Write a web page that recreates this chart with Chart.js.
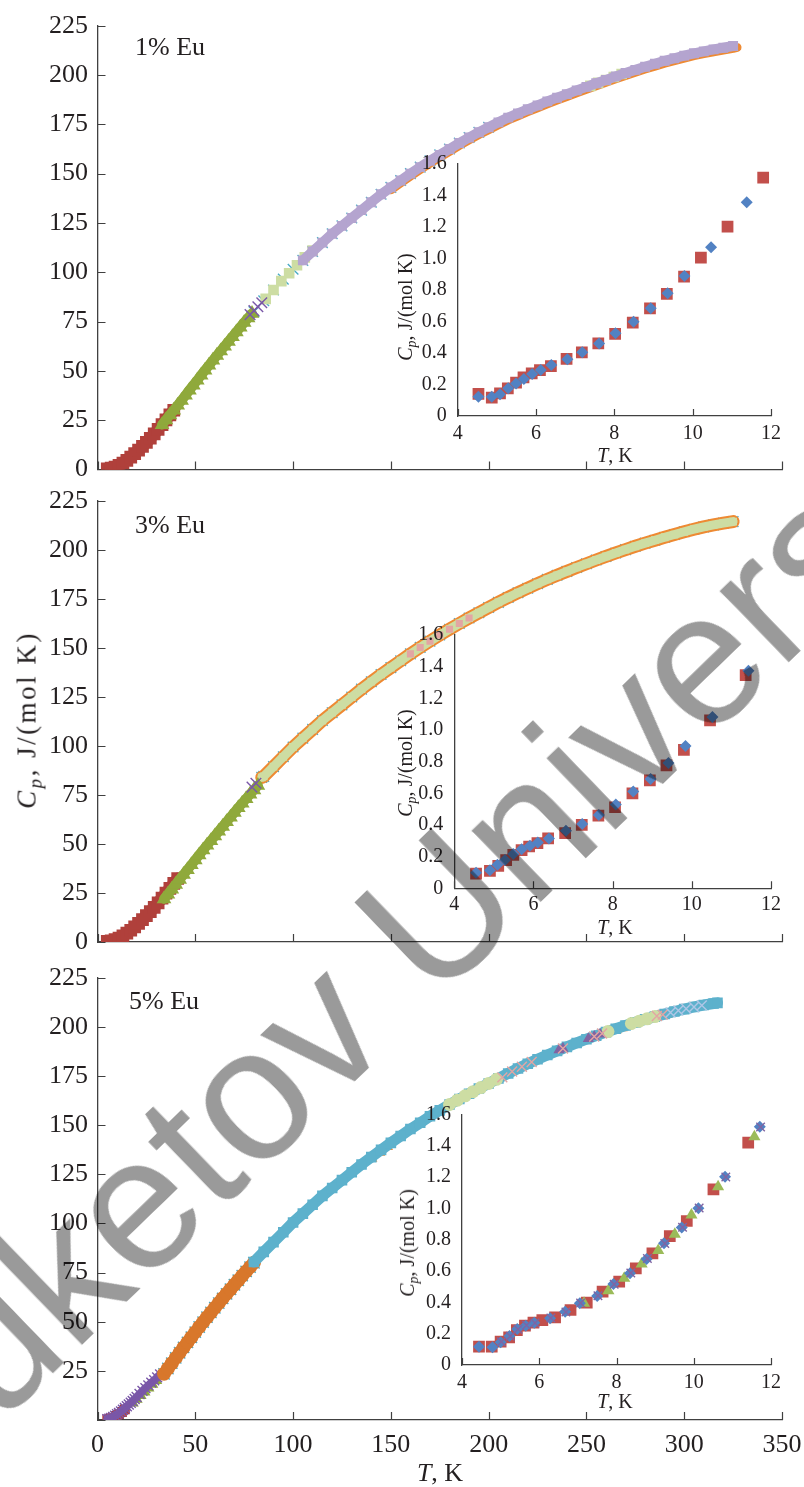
<!DOCTYPE html>
<html lang="en">
<head>
<meta charset="UTF-8" />
<title>Heat capacity, Eu-doped samples</title>
<script src="https://cdn.jsdelivr.net/npm/chart.js"></script>
<style>
  html, body { margin: 0; padding: 0; background: #fff; overflow: hidden; }
  body { width: 804px; height: 1487px; position: relative; font-family: 'Liberation Serif', 'Times New Roman', serif; color: #231f20; }
  .box { position: absolute; }
  .lbl { position: absolute; white-space: nowrap; line-height: 1; transform: translate(-50%, -50%); }
  .rot { transform: translate(-50%, -50%) rotate(-90deg); }
  .big { font-size: 26px; }
  .small { font-size: 20px; }
  .ytitle { font-size: 27px; letter-spacing: 2.5px; }
  sub { font-size: 70%; vertical-align: -0.3em; line-height: 0; }
  #wm { position: absolute; left: -203px; top: 1399px; transform-origin: 0 0; transform: rotate(-44deg);
        font: 188px/1 'Liberation Sans', Arial, sans-serif; color: #9a9a9a; mix-blend-mode: multiply;
        white-space: nowrap; pointer-events: none; }
</style>
</head>
<body>

  <!-- main panels -->
  <div class="box" style="left:0;top:0;width:804px;height:480px"><canvas id="main1" width="804" height="480"></canvas></div>
  <div class="box" style="left:0;top:480px;width:804px;height:480px"><canvas id="main2" width="804" height="480"></canvas></div>
  <div class="box" style="left:0;top:960px;width:804px;height:527px"><canvas id="main3" width="804" height="527"></canvas></div>

  <!-- insets -->
  <div class="box" style="left:380px;top:140px;width:420px;height:310px"><canvas id="ins1" width="420" height="310"></canvas></div>
  <div class="box" style="left:380px;top:600px;width:420px;height:320px"><canvas id="ins2" width="420" height="320"></canvas></div>
  <div class="box" style="left:380px;top:1080px;width:420px;height:315px"><canvas id="ins3" width="420" height="315"></canvas></div>

  <!-- labels -->
  <div class="lbl big" style="left:170px;top:47px">1% Eu</div>
  <div class="lbl big" style="left:170px;top:525px">3% Eu</div>
  <div class="lbl big" style="left:164px;top:1001px">5% Eu</div>
  <div class="lbl ytitle rot" style="left:27px;top:720px"><i>C<sub>p</sub></i>, J/(mol K)</div>
  <div class="lbl big" style="left:440px;top:1473px"><i>T</i>, K</div>

  <div class="lbl small rot" style="left:405px;top:307px"><i>C<sub>p</sub></i>, J/(mol K)</div>
  <div class="lbl small" style="left:615px;top:455px"><i>T</i>, K</div>
  <div class="lbl small rot" style="left:405px;top:763px"><i>C<sub>p</sub></i>, J/(mol K)</div>
  <div class="lbl small" style="left:615px;top:927px"><i>T</i>, K</div>
  <div class="lbl small rot" style="left:407px;top:1243px"><i>C<sub>p</sub></i>, J/(mol K)</div>
  <div class="lbl small" style="left:615px;top:1401px"><i>T</i>, K</div>

  <div id="wm">Buketov University</div>

<script>
  // ---------- panel 1 : 1% Eu ----------
  const p1RedT = [5, 7, 9, 11, 13, 15, 17, 19, 21, 23, 25, 27, 29, 31, 33, 35, 37, 39];
  const p1RedCp = [0.3, 0.6, 1.2, 2.0, 3.2, 4.6, 6.2, 8.0, 9.8, 11.7, 13.7, 15.8, 18.0, 20.3, 22.7, 25.1, 27.6, 30.0];
  const p1GreenT = [33, 35, 37, 39, 41, 43, 45, 47, 49, 51, 53, 55, 57, 59, 61, 63, 65, 67, 69, 71, 73, 75, 77, 79];
  const p1GreenCp = [22.7, 25.1, 27.6, 30.0, 32.5, 35.0, 37.6, 40.2, 42.7, 45.2, 47.8, 50.3, 52.8, 55.3, 57.7, 60.1, 62.5, 64.9, 67.3, 69.7, 72.1, 74.5, 76.8, 79.0];
  const p1PurpleT = [78, 80, 82, 84];
  const p1PurpleCp = [78.5, 80.5, 82.5, 84.5];
  const p1CrossT = [80, 85, 90, 95, 100, 105, 110, 115, 120, 125, 130, 135, 140, 145, 150, 155, 160, 165, 170, 175, 180, 185, 190, 195, 200];
  const p1CrossCp = [80, 85.5, 91, 96.5, 101.5, 106, 110.5, 115, 119.5, 123.5, 127.5, 131.5, 135.5, 139.5, 143, 146.5, 150, 153.3, 156.5, 159.5, 162.5, 165.5, 168.3, 171, 173.5];
  const p1PaleT = [86, 90, 94, 98, 102, 106, 110, 252, 256, 260, 264, 268];
  const p1PaleCp = [86.5, 91, 95.5, 99.5, 103.5, 107.5, 111, 194.5, 196, 197.5, 199, 200.5];
  const p1LavT = [105, 110, 115, 120, 125, 130, 135, 140, 145, 150, 155, 160, 165, 170, 175, 180, 185, 190, 195, 200, 205, 210, 215, 220, 225, 230, 235, 240, 245, 250, 255, 260, 265, 270, 275, 280, 285, 290, 295, 300, 305, 310, 315, 320, 325];
  const p1LavCp = [106, 110.5, 115, 119.5, 123.5, 127.5, 131.5, 135.5, 139.5, 143, 146.5, 150, 153.3, 156.5, 159.5, 162.5, 165.5, 168.3, 171, 173.5, 176, 178.4, 180.5, 182.6, 184.6, 186.6, 188.5, 190.3, 192.2, 194, 195.8, 197.5, 199.3, 201, 202.6, 204.2, 205.7, 207.2, 208.5, 209.8, 211, 212, 213, 213.8, 214.7];
  const p1OrangeT = [150, 155, 160, 165, 170, 175, 180, 185, 190, 195, 200, 205, 210, 215, 220, 225, 230, 235, 240, 245, 250, 255, 260, 265, 270, 275, 280, 285, 290, 295, 300, 305, 310, 315, 320, 325, 327];
  const p1OrangeCp = [141.8, 145.3, 148.8, 152.1, 155.3, 158.3, 161.3, 164.3, 167.1, 169.8, 172.3, 174.8, 177.2, 179.3, 181.4, 183.4, 185.4, 187.3, 189.1, 191, 192.8, 194.6, 196.3, 198.1, 199.8, 201.4, 203, 204.5, 206, 207.3, 208.6, 209.8, 210.8, 211.8, 212.6, 213.5, 214];

  // ---------- panel 2 : 3% Eu ----------
  const p2RedT = [5, 7, 9, 11, 13, 15, 17, 19, 21, 23, 25, 27, 29, 31, 33, 35, 37, 39, 41];
  const p2RedCp = [0.3, 0.6, 1.2, 2.0, 3.1, 4.5, 6.0, 7.7, 9.5, 11.4, 13.4, 15.5, 17.7, 20.0, 22.4, 24.9, 27.4, 29.9, 32.4];
  const p2GreenT = [34, 36, 38, 40, 42, 44, 46, 48, 50, 52, 54, 56, 58, 60, 62, 64, 66, 68, 70, 72, 74, 76, 78, 80, 82];
  const p2GreenCp = [22.0, 24.4, 26.9, 29.4, 31.9, 34.4, 36.9, 39.4, 41.9, 44.4, 46.9, 49.3, 51.7, 54.1, 56.5, 58.9, 61.3, 63.7, 66.1, 68.5, 70.8, 73.1, 75.4, 77.6, 79.8];
  const p2PurpleT = [79, 81];
  const p2PurpleCp = [79, 81];
  const p2BandT = [84, 85, 90, 95, 100, 105, 110, 115, 120, 125, 130, 135, 140, 145, 150, 155, 160, 165, 170, 175, 180, 185, 190, 195, 200, 205, 210, 215, 220, 225, 230, 235, 240, 245, 250, 255, 260, 265, 270, 275, 280, 285, 290, 295, 300, 305, 310, 315, 320, 325];
  const p2BandCp = [84, 84.5, 89.5, 94.5, 99.5, 104, 108.5, 113, 117, 121, 125, 129, 132.8, 136.5, 140, 143.5, 147, 150.3, 153.5, 156.6, 159.6, 162.5, 165.3, 168, 170.7, 173.3, 175.8, 178.2, 180.5, 182.8, 185, 187.1, 189.1, 191.1, 193, 194.9, 196.7, 198.5, 200.2, 201.9, 203.5, 205, 206.5, 207.9, 209.3, 210.6, 211.8, 212.8, 213.7, 214.5];
  const p2PinkT = [160, 165, 170, 175, 180, 185, 190];
  const p2PinkCp = [147, 150.3, 153.5, 156.6, 159.6, 162.5, 165.3];

  // ---------- panel 3 : 5% Eu ----------
  const p3RedT = [5, 6.5, 8, 9.5, 11, 12.5, 14];
  const p3RedCp = [0.3, 0.6, 1.2, 2.0, 3.0, 4.1, 5.4];
  const p3PurpleT = [5, 6, 7, 8, 9, 10, 11, 12, 13, 14, 15, 16, 17, 18, 19, 20, 21.5, 23, 24.5, 26, 27.5, 29, 30.5, 32];
  const p3PurpleCp = [0.4, 0.7, 1.1, 1.6, 2.2, 2.9, 3.6, 4.4, 5.2, 6.1, 7.0, 7.9, 8.8, 9.7, 10.7, 11.7, 13.2, 14.8, 16.2, 17.6, 19.0, 20.2, 21.7, 23.2];
  const p3GreenT = [18, 20, 22, 24, 26, 28, 30];
  const p3GreenCp = [8.6, 10.6, 12.4, 14.3, 16.3, 18.2, 20.1];
  const p3OrangeT = [34, 36, 38, 40, 42, 44, 46, 48, 50, 52, 54, 56, 58, 60, 62, 64, 66, 68, 70, 72, 74, 76, 78, 80];
  const p3OrangeCp = [23.5, 26.2, 28.9, 31.6, 34.2, 36.9, 39.5, 42.1, 44.7, 47.3, 49.8, 52.3, 54.7, 57.1, 59.5, 61.9, 64.2, 66.5, 68.8, 71.1, 73.4, 75.6, 77.8, 80.0];
  const p3BlueT = [80, 85, 90, 95, 100, 105, 110, 115, 120, 125, 130, 135, 140, 145, 150, 155, 160, 165, 170, 175, 180, 185, 190, 195, 200, 205, 210, 215, 220, 225, 230, 235, 240, 245, 250, 255, 260, 265, 270, 275, 280, 285, 290, 295, 300, 305, 310, 315, 317];
  const p3BlueCp = [80.4, 85.5, 90.5, 95.5, 100.5, 105, 109.5, 114, 118, 122, 126, 130, 133.7, 137.4, 141, 144.5, 148, 151.2, 154.5, 157.5, 160.5, 163.3, 166, 168.6, 171.2, 173.8, 176.3, 178.8, 181.2, 183.5, 185.7, 187.8, 189.8, 191.8, 193.7, 195.5, 197.3, 199, 200.7, 202.3, 203.8, 205.2, 206.5, 207.8, 209, 210.1, 211.1, 211.9, 212.2];
  const p3PaleT = [180, 184, 188, 192, 196, 200, 204, 261, 273, 277, 281, 285];
  const p3PaleCp = [160.5, 162.7, 164.9, 167, 169.1, 171.2, 173.3, 197.6, 201.7, 202.9, 204.1, 205.2];
  const p3TriT = [140, 144, 148, 265, 268, 271, 291, 295, 299, 303];
  const p3TriCp = [133.2, 136.2, 139.1, 198.5, 199.5, 200.5, 206.3, 207.3, 208.3, 209.3];
  const p3VioletT = [236, 238, 251, 254, 257];
  const p3VioletCp = [188.2, 189, 194, 195.1, 196.2];
  const p3PinkT = [207, 212, 217, 222, 238, 254, 258, 286, 289];
  const p3PinkCp = [174.3, 177.3, 179.7, 182.1, 189, 195.1, 196.6, 205.5, 206.2];
  const p3PaleXT = [293, 297, 301, 305, 309];
  const p3PaleXCp = [207.3, 208.3, 209.2, 210.1, 210.9];

  // ---------- insets (4-12 K) ----------
  const in1RedT = [4.53, 4.87, 5.08, 5.28, 5.49, 5.68, 5.89, 6.10, 6.38, 6.78, 7.17, 7.59, 8.02, 8.47, 8.91, 9.34, 9.78, 10.21, 10.89, 11.80];
  const in1RedCp = [0.140, 0.116, 0.144, 0.176, 0.212, 0.245, 0.271, 0.292, 0.317, 0.362, 0.404, 0.461, 0.521, 0.593, 0.684, 0.775, 0.885, 1.005, 1.202, 1.513];
  const in1BlueT = [4.53, 4.87, 5.08, 5.29, 5.49, 5.69, 5.90, 6.12, 6.39, 6.80, 7.18, 7.61, 8.03, 8.49, 8.93, 9.36, 9.79, 10.47, 11.38];
  const in1BlueCp = [0.123, 0.123, 0.138, 0.176, 0.207, 0.235, 0.267, 0.292, 0.324, 0.360, 0.404, 0.461, 0.525, 0.599, 0.684, 0.779, 0.889, 1.071, 1.357];

  const in2RedT = [4.55, 4.90, 5.11, 5.31, 5.49, 5.70, 5.89, 6.10, 6.37, 6.80, 7.22, 7.64, 8.06, 8.50, 8.94, 9.36, 9.80, 10.46, 11.36];
  const in2RedCp = [0.093, 0.110, 0.142, 0.178, 0.211, 0.241, 0.264, 0.285, 0.315, 0.349, 0.400, 0.459, 0.512, 0.600, 0.681, 0.776, 0.875, 1.061, 1.347];
  const in2BlueT = [4.55, 4.90, 5.09, 5.28, 5.49, 5.70, 5.91, 6.11, 6.39, 6.82, 7.23, 7.65, 8.08, 8.52, 8.96, 9.41, 9.84, 10.52, 11.43];
  const in2BlueCp = [0.099, 0.114, 0.148, 0.178, 0.216, 0.247, 0.268, 0.290, 0.315, 0.364, 0.406, 0.463, 0.529, 0.611, 0.691, 0.791, 0.899, 1.082, 1.374];

  const in3RedT = [4.44, 4.77, 5.00, 5.22, 5.42, 5.63, 5.85, 6.08, 6.41, 6.81, 7.23, 7.64, 8.07, 8.50, 8.93, 9.38, 9.82, 10.51, 11.41];
  const in3RedCp = [0.117, 0.117, 0.149, 0.177, 0.223, 0.251, 0.270, 0.287, 0.304, 0.351, 0.398, 0.468, 0.532, 0.617, 0.713, 0.823, 0.919, 1.121, 1.419];
  const in3GreenT = [7.16, 7.79, 8.20, 8.65, 9.08, 9.51, 9.94, 10.63, 11.57];
  const in3GreenCp = [0.394, 0.474, 0.553, 0.645, 0.730, 0.834, 0.957, 1.138, 1.457];
  const in3BlueT = [4.44, 4.79, 5.00, 5.23, 5.43, 5.65, 5.87, 6.28, 6.67, 7.05, 7.50, 7.92, 8.35, 8.78, 9.23, 9.69, 10.12, 10.81, 11.71];
  const in3BlueCp = [0.117, 0.113, 0.145, 0.185, 0.230, 0.251, 0.270, 0.298, 0.340, 0.394, 0.440, 0.517, 0.585, 0.677, 0.777, 0.877, 1.000, 1.202, 1.521];
  const in3PurpleT = [5.02, 5.25, 5.45, 5.67, 5.89, 6.30, 6.69, 7.07, 7.52, 7.94, 8.37, 8.80, 9.25, 9.71, 10.14, 10.83, 11.73];
  const in3PurpleCp = [0.148, 0.183, 0.228, 0.253, 0.268, 0.300, 0.338, 0.396, 0.442, 0.515, 0.587, 0.679, 0.775, 0.879, 1.002, 1.200, 1.519];

  // ---------- chart helpers ----------
  Chart.defaults.font.family = "'Liberation Serif', 'Times New Roman', serif";
  Chart.defaults.color = '#231f20';

  const AXIS = '#404040';

  // tick marks drawn inside the plot area, like the original figure
  const innerTicks = {
    id: 'innerTicks',
    beforeDatasetsDraw(chart, args, o) {
      const { ctx, chartArea: a, scales: { x, y } } = chart;
      ctx.save();
      ctx.strokeStyle = AXIS;
      ctx.lineWidth = 1.2;
      ctx.beginPath();
      if (o.x) x.ticks.forEach(t => {
        const p = Math.round(x.getPixelForValue(t.value)) + 0.5;
        ctx.moveTo(p, a.bottom); ctx.lineTo(p, a.bottom - o.x);
      });
      if (o.y) y.ticks.forEach(t => {
        const p = Math.round(y.getPixelForValue(t.value)) + 0.5;
        ctx.moveTo(a.left, p); ctx.lineTo(a.left + o.y, p);
      });
      ctx.stroke();
      ctx.restore();
    }
  };

  // one series: T/Cp arrays -> scatter dataset
  function ser(T, Cp, color, style, r, line) {
    const isCross = style === 'cross' || style === 'crossRot';
    return {
      data: T.map((t, i) => ({ x: t, y: Cp[i] })),
      pointStyle: style,
      pointRadius: r,
      pointBackgroundColor: color,
      pointBorderColor: color,
      pointBorderWidth: isCross ? 1.4 : 0,
      showLine: !!line,
      borderWidth: line || 0,
      borderColor: color,
      borderCapStyle: 'round',
      borderJoinStyle: 'round',
      tension: 0
    };
  }

  // datasets listed bottom -> top
  function stack(list) {
    return list.map((d, i) => Object.assign(d, { order: list.length - i }));
  }

  function mainChart(id, datasets, o) {
    return new Chart(document.getElementById(id), {
      type: 'scatter',
      data: { datasets: stack(datasets) },
      options: {
        animation: false, responsive: false, events: [],
        layout: { padding: { top: o.top, right: 22, left: 0, bottom: 0 } },
        plugins: { legend: { display: false }, tooltip: { enabled: false }, innerTicks: { x: 8, y: 8 } },
        scales: {
          x: {
            type: 'linear', min: 0, max: 350,
            ticks: { stepSize: 50, display: o.xLabels, padding: 9.4, font: { size: 26 } },
            grid: { display: false, drawTicks: false },
            border: { color: AXIS, width: 1.3 },
            afterFit: s => { s.height = o.xh; s.paddingLeft = 0; s.paddingRight = 0; }
          },
          y: {
            min: 0, max: 225,
            ticks: { stepSize: 25, padding: 9.5, font: { size: 26 },
                     callback: v => (o.noZero && v === 0) ? '' : v },
            grid: { display: false, drawTicks: false },
            border: { color: AXIS, width: 1.3 },
            afterFit: s => { s.width = 97.5; s.paddingTop = 0; s.paddingBottom = 0; }
          }
        }
      },
      plugins: [innerTicks]
    });
  }

  function insetChart(id, datasets, o) {
    return new Chart(document.getElementById(id), {
      type: 'scatter',
      data: { datasets: stack(datasets) },
      options: {
        animation: false, responsive: false, events: [],
        layout: { padding: { top: o.top, right: 29, left: 0, bottom: 0 } },
        plugins: { legend: { display: false }, tooltip: { enabled: false }, innerTicks: { x: 7, y: 0 } },
        scales: {
          x: {
            type: 'linear', min: 4, max: 12,
            ticks: { stepSize: 2, padding: o.xpad, font: { size: 20 } },
            grid: { display: false, drawTicks: false },
            border: { color: AXIS, width: 1.3 },
            afterFit: s => { s.height = o.xh; s.paddingLeft = 0; s.paddingRight = 0; }
          },
          y: {
            min: 0, max: 1.6,
            ticks: { stepSize: 0.2, padding: 11, font: { size: 20 },
                     callback: v => v === 0 ? '0' : v.toFixed(1) },
            grid: { display: false, drawTicks: false },
            border: { color: AXIS, width: 1.3 },
            afterFit: s => { s.width = o.yw; s.paddingTop = 0; s.paddingBottom = 0; }
          }
        }
      },
      plugins: [innerTicks]
    });
  }

  const RED = '#B0403B', GREEN = '#8FA93B', PURPLE = '#7A57A8', CYAN = '#4BACC6',
        PALE = '#CDDDA3', LAV = '#B4A4CF', ORANGE = '#EE8A33', PINK = '#E3A5A3',
        DKORANGE = '#D8772B', SKY = '#5DB1CC', IRED = '#C24F4B', IBLUE = '#5282C3',
        IGREEN = '#9BBB59', IPURPLE = '#8064A2';

  mainChart('main1', [
    ser(p1CrossT, p1CrossCp, CYAN, 'crossRot', 7.5),
    ser(p1OrangeT, p1OrangeCp, ORANGE, 'triangle', 5, 9),
    ser(p1PaleT, p1PaleCp, PALE, 'rect', 7.5, 0),
    ser(p1LavT, p1LavCp, LAV, 'rect', 7, 10),
    ser(p1RedT, p1RedCp, RED, 'rect', 9, 12),
    ser(p1GreenT, p1GreenCp, GREEN, 'triangle', 8.5, 10),
    ser(p1PurpleT, p1PurpleCp, PURPLE, 'crossRot', 7.5)
  ], { top: 25.7, xh: 10.6, xLabels: false });

  mainChart('main2', [
    ser(p2BandT, p2BandCp, CYAN, 'crossRot', 7.5),
    ser(p2BandT, p2BandCp, ORANGE, 'triangle', 6, 13),
    ser(p2BandT, p2BandCp, PALE, 'rect', 5.5, 9),
    ser(p2PinkT, p2PinkCp, PINK, 'rect', 5, 0),
    ser(p2RedT, p2RedCp, RED, 'rect', 9, 12),
    ser(p2GreenT, p2GreenCp, GREEN, 'triangle', 8.5, 10),
    ser(p2PurpleT, p2PurpleCp, PURPLE, 'crossRot', 7.5)
  ], { top: 21, xh: 18, xLabels: false });

  mainChart('main3', [
    ser(p3OrangeT, p3OrangeCp, CYAN, 'crossRot', 8),
    ser(p3RedT, p3RedCp, RED, 'rect', 7, 0),
    ser(p3GreenT, p3GreenCp, GREEN, 'triangle', 7, 0),
    ser(p3PurpleT, p3PurpleCp, PURPLE, 'crossRot', 7, 8),
    ser(p3OrangeT, p3OrangeCp, DKORANGE, 'circle', 7, 12),
    ser(p3TriT, p3TriCp, ORANGE, 'triangle', 7, 0),
    ser(p3BlueT, p3BlueCp, SKY, 'rect', 7.5, 11),
    ser(p3PaleT, p3PaleCp, PALE, 'circle', 6.5, 0),
    ser(p3VioletT, p3VioletCp, IPURPLE, 'triangle', 6.5, 0),
    ser(p3PinkT, p3PinkCp, PINK, 'crossRot', 7),
    ser(p3PaleXT, p3PaleXCp, '#AFC6E6', 'crossRot', 7)
  ], { top: 17.7, xh: 67, xLabels: true, noZero: true });

  insetChart('ins1', [
    ser(in1RedT, in1RedCp, IRED, 'rect', 8.3),
    ser(in1BlueT, in1BlueCp, IBLUE, 'rectRot', 6)
  ], { top: 24, yw: 77.7, xh: 34, xpad: 5.5 });

  insetChart('ins2', [
    ser(in2RedT, in2RedCp, IRED, 'rect', 8.3),
    ser(in2BlueT, in2BlueCp, IBLUE, 'rectRot', 6)
  ], { top: 35, yw: 74.3, xh: 31.7, xpad: 4.5 });

  insetChart('ins3', [
    ser(in3RedT, in3RedCp, IRED, 'rect', 8.3),
    ser(in3GreenT, in3GreenCp, IGREEN, 'triangle', 7),
    ser(in3BlueT, in3BlueCp, IBLUE, 'rectRot', 6),
    ser(in3PurpleT, in3PurpleCp, IPURPLE, 'crossRot', 6)
  ], { top: 34.3, yw: 82, xh: 30, xpad: 5.3 });
</script>
</body>
</html>
